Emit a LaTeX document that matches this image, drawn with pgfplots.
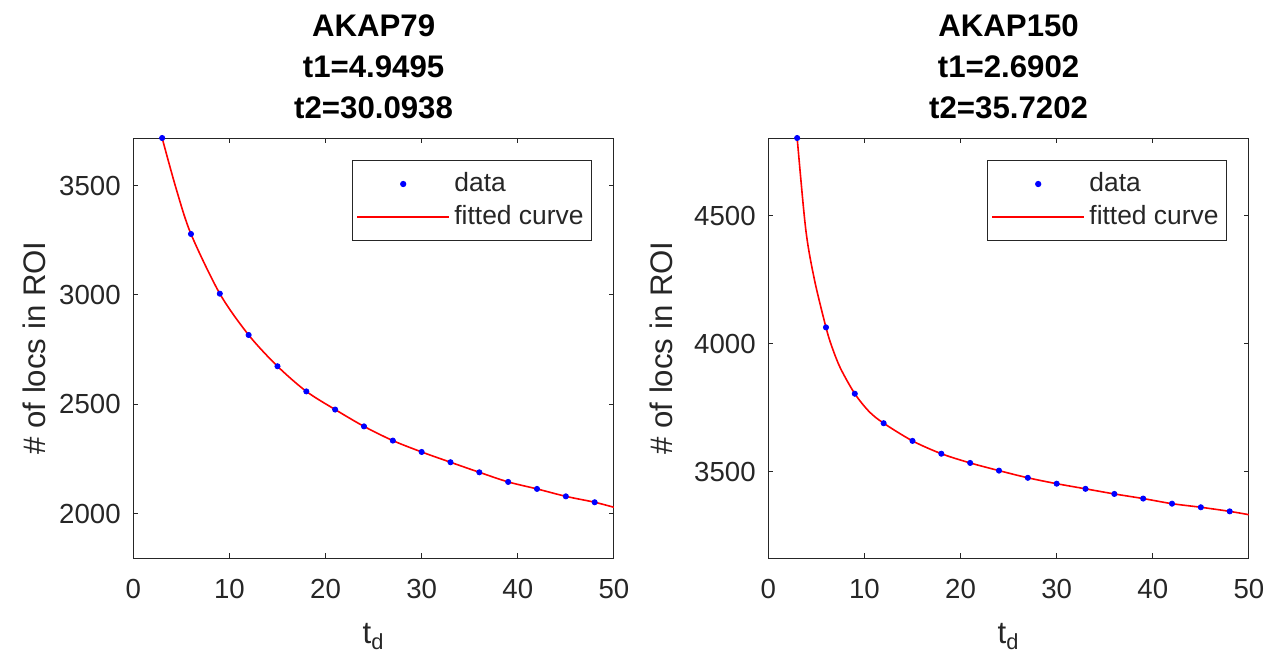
\documentclass[border=0pt]{standalone}
\usepackage{fontspec}
\setmainfont{Liberation Sans}
\usepackage{pgfplots}
\pgfplotsset{compat=1.18}
\definecolor{axgray}{gray}{0.15}
\pgfplotsset{
  mystyle/.style={
    scale only axis, width=240.3pt, height=210pt,
    xmin=0, xmax=50, xtick={0,10,...,50},
    tick align=inside, major tick length=2.5pt,
    axis line style={axgray, line width=0.5pt},
    every tick/.style={axgray, line width=0.5pt},
    tick label style={font=\fontsize{13.8}{16}\selectfont, text=axgray},
    /pgf/number format/assume math mode=true,
    /pgf/number format/1000 sep={},
    xticklabel style={yshift=-7pt},
    yticklabel style={xshift=-2.8pt},
    xlabel={t\textsubscript{d}},
    ylabel={\# of locs in ROI},
    every axis x label/.style={at={(axis description cs:0.5,0)}, anchor=north, yshift=-29pt, font=\fontsize{15.6}{19}\selectfont, text=axgray},
    title style={font=\bfseries\fontsize{15.6}{20.5}\selectfont, align=center, at={(0.5,1)}, anchor=south, yshift=3.3pt, inner sep=0pt, text=black},
    legend style={at={(0.9545,0.9476)}, anchor=north east, draw=axgray, line width=0.5pt, fill=white,
      font=\fontsize{13.2}{16}\selectfont, text=axgray, inner xsep=1.8pt, inner ysep=3.5pt,
      nodes={inner xsep=2.2pt, inner ysep=2.25pt, text height=9.5pt, text depth=2.5pt}},
    legend cell align=left,
    legend image code/.code={\draw[mark repeat=2,mark phase=2,#1] plot coordinates {(0pt,0pt) (23pt,0pt) (46pt,0pt)};},
  },
  datastyle/.style={only marks, mark=*, mark size=1.3pt, color=blue, mark options={fill=blue, draw=blue}},
  fitstyle/.style={no marks, color=red, line width=0.8pt, smooth},
}
\begin{document}
\begin{tikzpicture}
\useasboundingbox (0,0) rectangle (639pt,330pt);
% Left panel
\begin{axis}[mystyle, at={(66.65pt,51pt)}, anchor=south west,
  ymin=1797, ymax=3718, ytick={2000,2500,3000,3500},
  title={AKAP79\\t1=4.9495\\t2=30.0938},
  every axis y label/.style={at={(axis description cs:-0.205,0.5)}, rotate=90, anchor=center, font=\fontsize{15.6}{19}\selectfont, text=axgray}]
\addplot[datastyle] coordinates {
(3,3718) (6,3279) (9,3006) (12,2817) (15,2674) (18,2559) (21,2476) (24,2399)
(27,2334) (30,2282) (33,2235) (36,2189) (39,2145) (42,2113) (45,2079) (48,2052)};
\addlegendentry{data}
\addplot[fitstyle] coordinates {
(2.6,3790) (3,3718) (4.5,3480) (6,3279) (9,3006) (12,2817) (15,2674) (18,2559) (21,2476) (24,2399)
(27,2334) (30,2282) (33,2235) (36,2189) (39,2145) (42,2113) (45,2079) (48,2052) (50,2029)};
\addlegendentry{fitted curve}
\end{axis}
% Right panel
\begin{axis}[mystyle, at={(384.15pt,51pt)}, anchor=south west,
  ymin=3164, ymax=4803, ytick={3500,4000,4500},
  title={AKAP150\\t1=2.6902\\t2=35.7202},
  every axis y label/.style={at={(axis description cs:-0.222,0.5)}, rotate=90, anchor=center, font=\fontsize{15.6}{19}\selectfont, text=axgray}]
\addplot[datastyle] coordinates {
(3,4803) (6,4064) (9,3805) (12,3690) (15,3621) (18,3571) (21,3535) (24,3505)
(27,3477) (30,3454) (33,3434) (36,3414) (39,3396) (42,3376) (45,3362) (48,3346)};
\addlegendentry{data}
\addplot[fitstyle] coordinates {
(2.8,4890) (3,4803) (3.9,4445) (4.8,4250) (6,4064) (6.6,3990) (7.5,3905) (9,3805) (10.5,3735) (12,3690) (15,3621) (18,3571) (21,3535) (24,3505)
(27,3477) (30,3454) (33,3434) (36,3414) (39,3396) (42,3376) (45,3362) (48,3346) (50,3333)};
\addlegendentry{fitted curve}
\end{axis}
\end{tikzpicture}
\end{document}
